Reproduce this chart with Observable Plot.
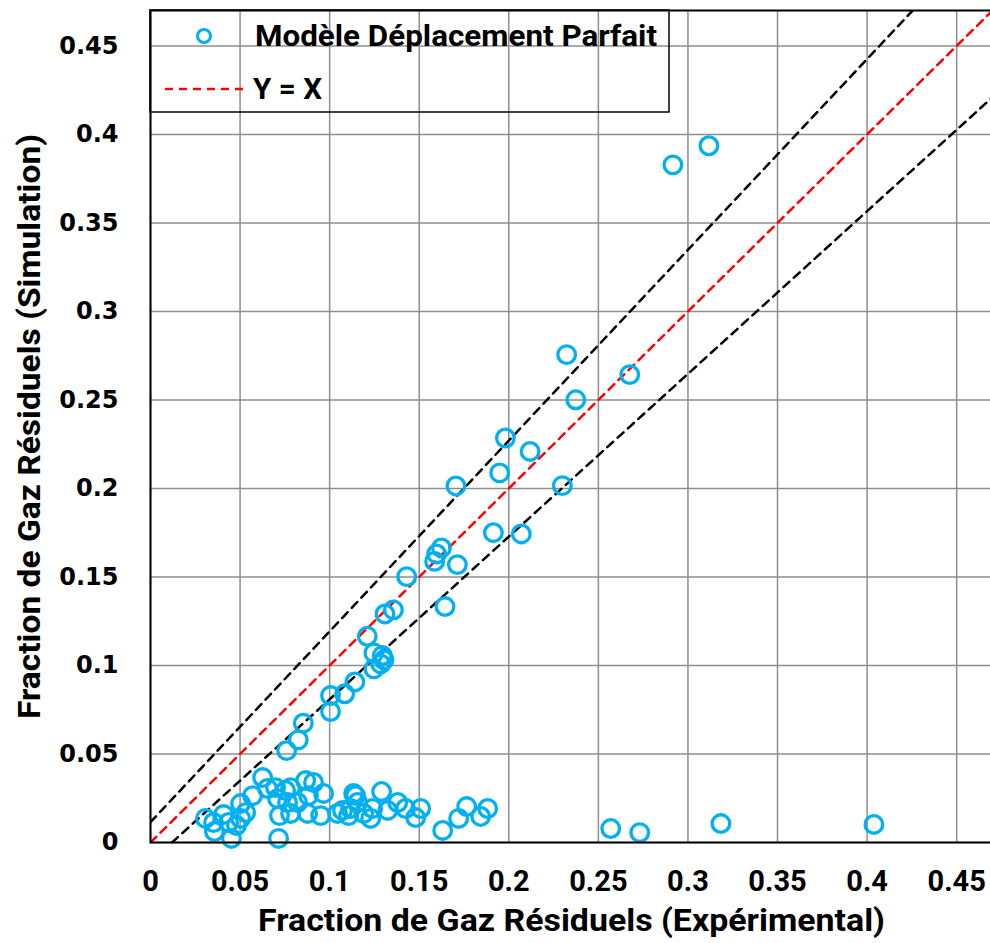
<!DOCTYPE html>
<html><head><meta charset="utf-8">
<script src="https://cdn.jsdelivr.net/npm/d3@7"></script>
<script src="https://cdn.jsdelivr.net/npm/@observablehq/plot@0.6"></script>
<style>
body{margin:0;background:#fff;}
#chart{position:relative;width:990px;height:943px;overflow:hidden;}
#legend{position:absolute;left:0;top:0;}
</style></head><body><div id="chart"></div>
<script>
// Experimental (x) and simulated (y) residual gas fractions
const expX = [
 0.2916,0.3117,0.2323,0.2675,0.2374,0.1981,0.2119,0.1949,0.1705,0.2299,
 0.1914,0.2070,0.1624,0.1597,0.1586,0.1713,0.1644,0.1430,0.1356,0.1309,
 0.1210,0.1247,0.1294,0.1303,0.1285,0.1247,0.1141,0.1084,0.1005,0.1005,
 0.0853,0.0825,0.0760,
 0.0307,0.0352,0.0357,0.0408,0.0436,0.0452,0.0480,0.0503,0.0503,0.0531,
 0.0570,0.0626,0.0653,0.0698,0.0709,0.0720,0.0754,0.0765,0.0782,0.0821,
 0.0782,0.0866,0.0882,0.0877,0.0910,0.0966,0.0950,0.1044,0.1106,0.1134,
 0.1156,0.0715,0.1072,0.1117,0.1145,0.1190,0.1229,0.1240,0.1290,0.1324,
 0.1380,0.1424,0.1480,0.1508,0.1631,0.1720,0.1765,0.1843,0.1882,0.2569,
 0.2731,0.3184,0.4038
];
const simY = [
 0.3828,0.3936,0.2756,0.2643,0.2501,0.2285,0.2209,0.2088,0.2014,0.2016,
 0.1750,0.1743,0.1664,0.1630,0.1588,0.1570,0.1333,0.1502,0.1314,0.1291,
 0.1165,0.1071,0.1056,0.1032,0.1009,0.0981,0.0907,0.0840,0.0830,0.0740,
 0.0674,0.0580,0.0519,
 0.0136,0.0113,0.0062,0.0158,0.0113,0.0023,0.0096,0.0136,0.0220,0.0169,
 0.0265,0.0367,0.0305,0.0310,0.0248,0.0152,0.0294,0.0226,0.0310,0.0226,
 0.0164,0.0350,0.0265,0.0164,0.0339,0.0277,0.0152,0.0164,0.0152,0.0277,
 0.0226,0.0023,0.0181,0.0192,0.0265,0.0164,0.0136,0.0192,0.0288,0.0181,
 0.0226,0.0192,0.0141,0.0192,0.0068,0.0136,0.0203,0.0147,0.0192,0.0079,
 0.0056,0.0107,0.0102
];
// Reference lines
const identityX = [0, 0.47];
const identityY = [0, 0.47];
const upperX = [0, 0.47];
const upperY = [0.0115, 0.518];
const lowerX = [0.012, 0.47];
const lowerY = [0, 0.421];
// Ticks
const xTicks = [0,0.05,0.1,0.15,0.2,0.25,0.3,0.35,0.4,0.45];
const xTickLabels = ["0","0.05","0.1","0.15","0.2","0.25","0.3","0.35","0.4","0.45"];
const yTicks = [0,0.05,0.1,0.15,0.2,0.25,0.3,0.35,0.4,0.45];
const yTickLabels = ["0","0.05","0.1","0.15","0.2","0.25","0.3","0.35","0.4","0.45"];
const xTitle = "Fraction de Gaz Résiduels (Expérimental)";
const yTitle = "Fraction de Gaz Résiduels (Simulation)";
const seriesName = "Modèle Déplacement Parfait";
const refName = "Y = X";

const points = expX.map((x, i) => ({x, y: simY[i]}));
const toPts = (xs, ys) => xs.map((x, i) => ({x, y: ys[i]}));
const xFmt = new Map(xTicks.map((t, i) => [t, xTickLabels[i]]));
const yFmt = new Map(yTicks.map((t, i) => [t, yTickLabels[i]]));

const narrow = "'Liberation Sans Narrow','Arial Narrow',Roboto,sans-serif";
const blue = "#00B0F0";

const chart = Plot.plot({
  width: 990, height: 943,
  marginLeft: 150, marginRight: -2, marginTop: 10, marginBottom: 101,
  style: {background: "#fff", overflow: "visible"},
  x: {domain: [0, 0.47]},
  y: {domain: [0, 0.47]},
  marks: [
    Plot.gridX(xTicks, {stroke: "#8e8e8e", strokeOpacity: 1, strokeWidth: 1.5}),
    Plot.gridY(yTicks, {stroke: "#8e8e8e", strokeOpacity: 1, strokeWidth: 1.5}),
    Plot.line(toPts(upperX, upperY), {x: "x", y: "y", stroke: "#000", strokeWidth: 2.5, strokeDasharray: "8,6", clip: true}),
    Plot.line(toPts(lowerX, lowerY), {x: "x", y: "y", stroke: "#000", strokeWidth: 2.5, strokeDasharray: "8,6", clip: true}),
    Plot.line(toPts(identityX, identityY), {x: "x", y: "y", stroke: "#ff0000", strokeWidth: 2.5, strokeDasharray: "8,6", clip: true}),
    Plot.dot(points, {x: "x", y: "y", r: 8.8, stroke: blue, strokeWidth: 3.3, fill: "none"}),
    Plot.frame({stroke: "#000", strokeWidth: 2}),
    Plot.axisX(xTicks, {tickSize: 0, tickPadding: 28, tickFormat: d => xFmt.get(d), label: null,
      fontSize: 29, fontWeight: "bold", fontFamily: narrow, fill: "#000"}),
    Plot.axisY(yTicks, {tickSize: 0, tickPadding: 32, tickFormat: d => yFmt.get(d), label: null,
      fontSize: 24, fontWeight: "bold", fontFamily: "'DejaVu Sans',sans-serif", fill: "#000"}),
    Plot.text([xTitle], {text: d => d, frameAnchor: "bottom", dy: 88, textAnchor: "middle", fontSize: 31, fontWeight: "bold", fontFamily: narrow, fill: "#000"}),
    Plot.text([yTitle], {text: d => d, frameAnchor: "left", dx: -120, textAnchor: "middle", rotate: -90, fontSize: 31, fontWeight: "bold", fontFamily: narrow, fill: "#000"})
  ]
});
document.getElementById("chart").appendChild(chart);

// stretch titles to the reference widths
d3.select(chart).selectAll("text").each(function() {
  const t = this.textContent;
  if (t === xTitle) { this.setAttribute("textLength", 627); this.setAttribute("lengthAdjust", "spacingAndGlyphs"); }
  if (t === yTitle) { this.setAttribute("textLength", 585); this.setAttribute("lengthAdjust", "spacingAndGlyphs"); }
});

// Legend (drawn over the plot area, transparent box)
const lg = d3.select("#chart").append("svg").attr("id", "legend").attr("width", 990).attr("height", 943);
lg.append("rect").attr("x", 150).attr("y", 10).attr("width", 519).attr("height", 102)
  .attr("fill", "none").attr("stroke", "#000").attr("stroke-width", 1.5);
lg.append("circle").attr("cx", 204).attr("cy", 36).attr("r", 6.5)
  .attr("fill", "none").attr("stroke", blue).attr("stroke-width", 3);
lg.append("text").attr("x", 255).attr("y", 46).text(seriesName)
  .attr("font-family", narrow).attr("font-weight", "bold").attr("font-size", 30)
  .attr("textLength", 402).attr("lengthAdjust", "spacingAndGlyphs");
lg.append("line").attr("x1", 165).attr("x2", 244).attr("y1", 89).attr("y2", 89)
  .attr("stroke", "#ff0000").attr("stroke-width", 2.5).attr("stroke-dasharray", "8,6");
lg.append("text").attr("x", 253).attr("y", 99).text(refName)
  .attr("font-family", narrow).attr("font-weight", "bold").attr("font-size", 30)
  .attr("textLength", 69).attr("lengthAdjust", "spacingAndGlyphs");
</script></body></html>
